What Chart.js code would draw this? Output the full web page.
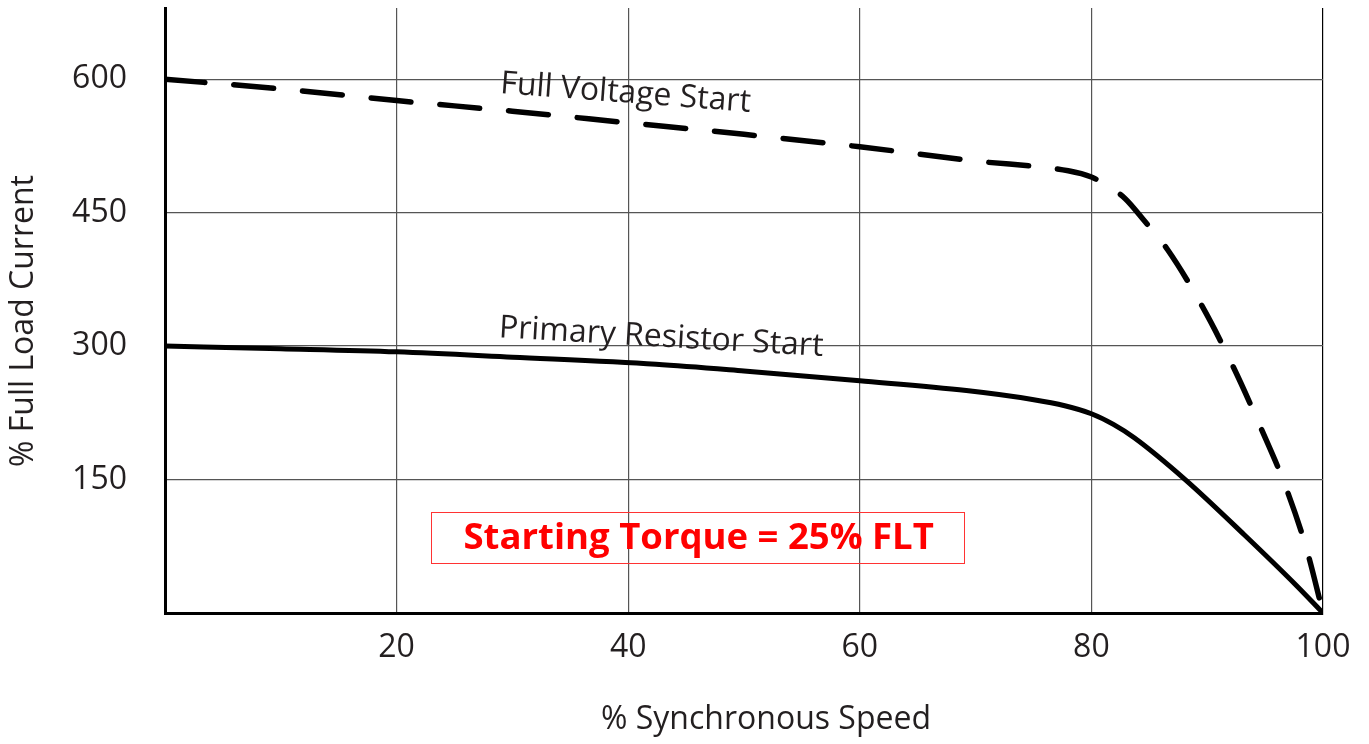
<!DOCTYPE html>
<html>
<head>
<meta charset="utf-8">
<script src="https://cdn.jsdelivr.net/npm/chart.js@4"></script>
<style>
  html, body { margin: 0; padding: 0; background: #fff; }
  canvas { display: block; }
</style>
</head>
<body>
<canvas id="motorChart" width="1369" height="744"></canvas>
<script>
// motor starting current vs speed
const speedFull = [0, 10, 20, 30, 40, 50, 60, 70, 78, 80, 81.4, 82.9, 84.5, 86.6, 89.6, 92.2, 94.6, 96.8, 98.6, 100];
const currentFull = [600, 589, 576, 564, 551, 538, 524, 508, 497, 490, 480, 466, 442, 408, 344, 278, 209, 141, 71, 0];

const speedPrimary = [0, 10, 20, 30, 42.4, 50, 60, 69.2, 74.9, 77.7, 80, 81.9, 83.7, 88.1, 93.2, 97.7, 100];
const currentPrimary = [300, 297, 293.5, 287.5, 279.5, 272, 261, 250, 240, 233, 224, 212, 197, 150, 88, 31, 0];

const xTicks = [20, 40, 60, 80, 100];
const yTicks = [150, 300, 450, 600];

const seriesNames = ['Full Voltage Start', 'Primary Resistor Start'];
const xTitle = '% Synchronous Speed';
const yTitle = '% Full Load Current';
const noteText = 'Starting Torque = 25% FLT';

const FONT = '"Open Sans", "Noto Sans", sans-serif';
const TEXT = '#231f20';

function toPoints(xs, ys) { return xs.map((x, i) => ({ x: x, y: ys[i] })); }

const labelsPlugin = {
    id: 'labels',
    afterDraw(chart) {
        const ctx = chart.ctx;
        const sx = chart.scales.x, sy = chart.scales.y;

        // curve names, slightly tilted
        ctx.save();
        ctx.fillStyle = TEXT;
        ctx.font = '32px ' + FONT;
        ctx.textAlign = 'left';
        ctx.textBaseline = 'alphabetic';
        [[seriesNames[0], 28.9, 584.5, 4.3], [seriesNames[1], 28.8, 310, 3.3]].forEach(([t, x, y, deg]) => {
            ctx.save();
            ctx.translate(sx.getPixelForValue(x), sy.getPixelForValue(y));
            ctx.rotate(deg * Math.PI / 180);
            ctx.fillText(t, 0, 0);
            ctx.restore();
        });
        ctx.restore();

        // red note box
        const cx = sx.getPixelForValue(46), cy = sy.getPixelForValue(85);
        ctx.save();
        ctx.strokeStyle = '#ff3333';
        ctx.lineWidth = 1;
        ctx.strokeRect(Math.round(cx - 266.5) + 0.5, Math.round(cy - 25.5) + 0.5, 533, 51);
        ctx.fillStyle = '#ff0000';
        ctx.font = 'bold 36.5px ' + FONT;
        ctx.textAlign = 'center';
        ctx.textBaseline = 'middle';
        ctx.fillText(noteText, cx + 1, cy + 1);
        ctx.restore();

        // axis titles
        ctx.save();
        ctx.fillStyle = TEXT;
        ctx.font = '32px ' + FONT;
        ctx.textAlign = 'center';
        ctx.textBaseline = 'middle';
        ctx.fillText(xTitle, 766, 720);
        ctx.translate(24, 321);
        ctx.rotate(-Math.PI / 2);
        ctx.fillText(yTitle, 0, 0);
        ctx.restore();
    }
};

new Chart(document.getElementById('motorChart').getContext('2d'), {
    type: 'line',
    data: {
        datasets: [
            { label: seriesNames[0], data: toPoints(speedFull, currentFull), borderColor: '#000', borderWidth: 5.5,
              borderDash: [40, 29], borderCapStyle: 'round', cubicInterpolationMode: 'monotone', pointRadius: 0, fill: false },
            { label: seriesNames[1], data: toPoints(speedPrimary, currentPrimary), borderColor: '#000', borderWidth: 5,
              borderCapStyle: 'round', borderJoinStyle: 'round', cubicInterpolationMode: 'monotone', pointRadius: 0, fill: false }
        ]
    },
    options: {
        responsive: false,
        animation: false,
        layout: { padding: { top: 8, right: 46, left: 0, bottom: 0 } },
        plugins: { legend: { display: false }, tooltip: { enabled: false } },
        scales: {
            x: {
                type: 'linear', min: 0, max: 100,
                afterBuildTicks: s => { s.ticks = xTicks.map(v => ({ value: v })); },
                afterFit: s => { s.height = 131; s.paddingLeft = 0; s.paddingRight = 0; },
                grid: { color: c => c.tick && c.tick.value === 100 ? '#000' : '#555', lineWidth: 1.2, drawTicks: false },
                border: { color: '#000', width: 3 },
                ticks: { autoSkip: false, maxRotation: 0, padding: 16, color: TEXT, font: { family: FONT, size: 32 } }
            },
            y: {
                min: 0, max: 680,
                afterBuildTicks: s => { s.ticks = yTicks.map(v => ({ value: v })); },
                afterFit: s => { s.width = 165; s.paddingTop = 0; s.paddingBottom = 0; },
                grid: { color: '#555', lineWidth: 1.2, drawTicks: false },
                border: { color: '#000', width: 3 },
                ticks: { padding: 38, color: TEXT, font: { family: FONT, size: 32 } }
            }
        }
    },
    plugins: [labelsPlugin]
});
</script>
</body>
</html>
